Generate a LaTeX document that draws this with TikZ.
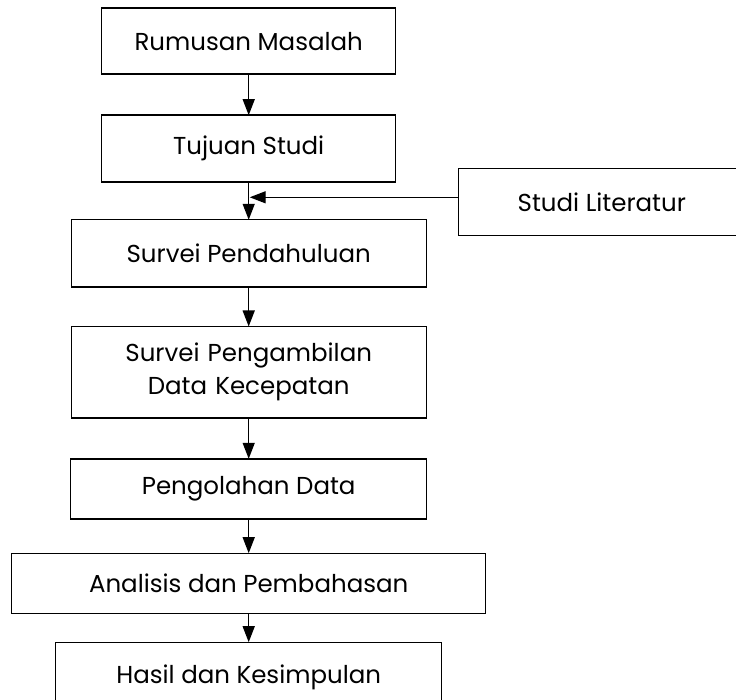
\documentclass[tikz,border=0pt]{standalone}
\usepackage{fontspec}
\setmainfont{Poppins}
\usetikzlibrary{positioning,arrows.meta}
\tikzstyle{box} = [rectangle, draw, line width=1.4pt, outer sep=0pt, %
   text centered, inner sep=0pt, font=\fontsize{24.5}{33}\selectfont]
\tikzstyle{line} = [draw, line width=1.4pt, -{Triangle[length=16pt,width=12pt]}]

\begin{document}
\begin{tikzpicture}[x=1pt, y=-1pt]
   \useasboundingbox (0,0) rectangle (736,700);
   \clip (0,0) rectangle (736,700);

   % Place nodes
   \node[box, minimum width=294pt, minimum height=66pt](rumusan) at (248.7,41.2){Rumusan Masalah};

   \node[box, below=41pt of rumusan, minimum width=294pt, minimum height=67pt](tujuan){Tujuan Studi};

   \node[box, below=37.6pt of tujuan, minimum width=355pt, minimum height=67.4pt](pendahuluan){Survei Pendahuluan};

   \node[box, below=39.3pt of pendahuluan, minimum width=355pt, minimum height=91.3pt,
      text width=340pt, align=center](pengambilan){Survei Pengambilan\\Data Kecepatan};

   \node[box, below=41pt of pengambilan, minimum width=356pt, minimum height=60pt](pengolahan){Pengolahan Data};

   \node[box, below=34.4pt of pengolahan, minimum width=474pt, minimum height=60pt](analisis){Analisis dan Pembahasan};

   \node[box, below=29pt of analisis, minimum width=386pt, minimum height=70pt](hasil){Hasil dan Kesimpulan};

   % side input
   \node[box, anchor=west, minimum width=287pt, minimum height=67pt](literatur) at (458.3,202.3){Studi Literatur};

   % Draw edges
   % Main spine
   \path [line] (rumusan) -- (tujuan);
   \path [line] (tujuan) -- (pendahuluan);
   \path [line] (pendahuluan) -- (pengambilan);
   \path [line] (pengambilan) -- (pengolahan);
   \path [line] (pengolahan) -- (analisis);
   \path [line] (analisis) -- (hasil);
   \path [line] ([yshift=5pt]literatur.west) -- ([yshift=5pt,xshift=1pt]tujuan.south |- literatur.west);

\end{tikzpicture}
\end{document}
